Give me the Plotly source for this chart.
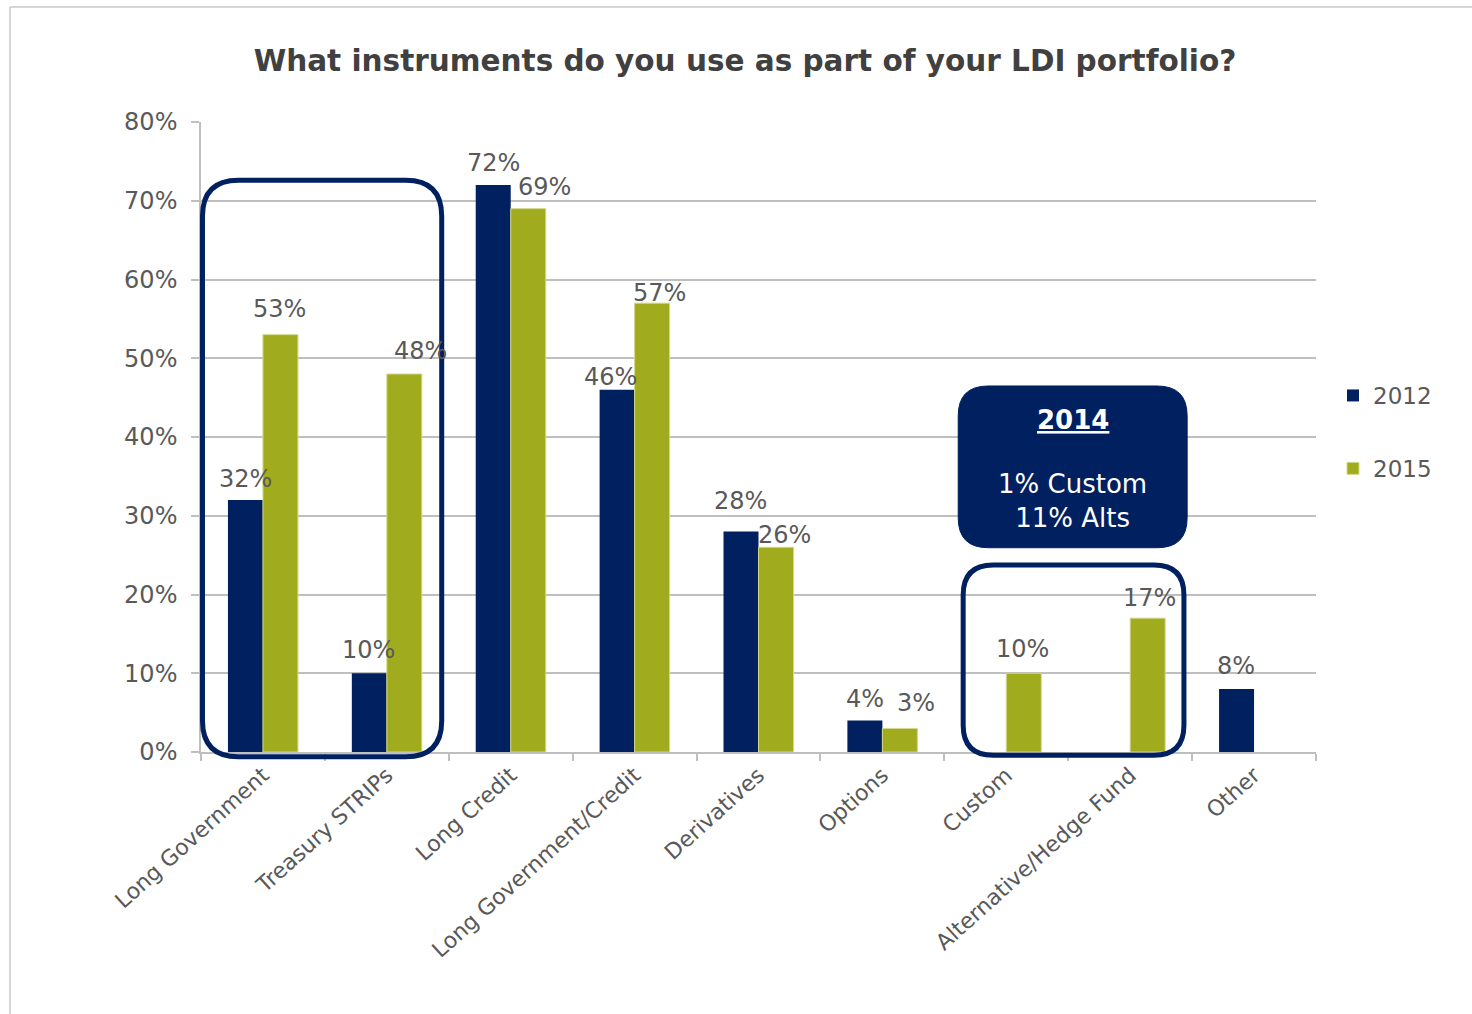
import plotly.graph_objects as go

# ---- survey data -------------------------------------------------------
categories = [
    "Long Government",
    "Treasury STRIPs",
    "Long Credit",
    "Long Government/Credit",
    "Derivatives",
    "Options",
    "Custom",
    "Alternative/Hedge Fund",
    "Other",
]
share_2012 = [32, 10, 72, 46, 28, 4, None, None, 8]
share_2015 = [53, 48, 69, 57, 26, 3, 10, 17, None]
y_tick_values = [0, 10, 20, 30, 40, 50, 60, 70, 80]
y_tick_labels = [f"{v}%" for v in y_tick_values]

# value-label placement: horizontal nudge and height above bar top (px)
label_dx_2012 = [0, -1, 0, -7, -1, 0, 0, 0, -1]
label_rise_2012 = [21, 23, 22, 13, 31, 22, 23, 23, 23]
label_dx_2015 = [-1, 16, 16, 7, 9, 16, -1, 2, 0]
label_rise_2015 = [26, 23, 22, 10, 12, 25, 24, 20, 23]

# ---- styling / layout constants ---------------------------------------
W, H = 1472, 1014
ML, MR, MT, MB = 201, 156, 122, 262
PLOT_W = W - ML - MR
PLOT_H = H - MT - MB
BARGAP = 0.435
NAVY = "#00205F"
OLIVE = "#A0AB1E"
GRID = "#BFBFBF"
TEXT = "#595959"
TITLE = "#404040"
FONT = "DejaVu Sans"
Y_MAX = 80
N = len(categories)

# half-width of one bar in pixels (two bars per group)
bar_half = PLOT_W / N * (1 - BARGAP) / 4


def cat_to_paper(i):
    return (i + 0.5) / N


def val_to_paper(v):
    return v / Y_MAX


def px_x(px):
    return (px - ML) / PLOT_W


def px_y(py):
    return (H - MB - py) / PLOT_H


def rounded_path(x0, x1, y0, y1, r):
    """Rounded rectangle in paper coordinates; r is the corner radius in px."""
    rx, ry = r / PLOT_W, r / PLOT_H
    return (
        f"M {x0 + rx},{y1} L {x1 - rx},{y1} Q {x1},{y1} {x1},{y1 - ry} "
        f"L {x1},{y0 + ry} Q {x1},{y0} {x1 - rx},{y0} "
        f"L {x0 + rx},{y0} Q {x0},{y0} {x0},{y0 + ry} "
        f"L {x0},{y1 - ry} Q {x0},{y1} {x0 + rx},{y1} Z"
    )


fig = go.Figure()
fig.add_trace(go.Bar(
    name="2012", x=categories, y=share_2012,
    marker=dict(color=NAVY, line=dict(width=0)),
    legendgroup="2012", hoverinfo="skip",
))
fig.add_trace(go.Bar(
    name="2015", x=categories, y=share_2015,
    marker=dict(color=OLIVE, line=dict(color="#D3D98C", width=1)),
    legendgroup="2015", hoverinfo="skip",
))

annotations = []
# value labels above each bar
for series, side, dxs, rises in (
    (share_2012, -bar_half, label_dx_2012, label_rise_2012),
    (share_2015, bar_half, label_dx_2015, label_rise_2015),
):
    for cat, v, dx, rise in zip(categories, series, dxs, rises):
        if v is None:
            continue
        annotations.append(dict(
            x=cat, y=v, xref="x", yref="y", text=f"{v}%",
            showarrow=False, xshift=side + dx, yshift=rise,
            xanchor="center", yanchor="middle",
            font=dict(family=FONT, size=24, color=TEXT),
        ))

shapes = []
# outline grouping the government-bond instruments
shapes.append(dict(
    type="path", xref="paper", yref="paper",
    path=rounded_path(cat_to_paper(-0.488), cat_to_paper(1.443),
                      val_to_paper(-0.6), val_to_paper(72.6), 36),
    line=dict(color=NAVY, width=5), fillcolor="rgba(0,0,0,0)", layer="above",
))
# outline grouping custom / alternative instruments
shapes.append(dict(
    type="path", xref="paper", yref="paper",
    path=rounded_path(cat_to_paper(5.652), cat_to_paper(7.434),
                      val_to_paper(-0.4), val_to_paper(23.75), 30),
    line=dict(color=NAVY, width=5), fillcolor="rgba(0,0,0,0)", layer="above",
))
# filled call-out box for 2014 figures
bx0, bx1 = cat_to_paper(5.612), cat_to_paper(7.46)
by0, by1 = val_to_paper(25.94), val_to_paper(46.48)
shapes.append(dict(
    type="path", xref="paper", yref="paper",
    path=rounded_path(bx0, bx1, by0, by1, 30),
    line=dict(color=NAVY, width=1), fillcolor=NAVY, layer="above",
))
annotations.append(dict(
    x=(bx0 + bx1) / 2, y=px_y(420), xref="paper", yref="paper",
    text="<b><u>2014</u></b>", showarrow=False,
    xanchor="center", yanchor="middle",
    font=dict(family=FONT, size=26, color="white"),
))
annotations.append(dict(
    x=(bx0 + bx1) / 2, y=px_y(501), xref="paper", yref="paper",
    text="1% Custom<br>11% Alts", showarrow=False,
    xanchor="center", yanchor="middle",
    font=dict(family=FONT, size=26, color="white"),
))

# outer chart-area border (top and left edges visible)
shapes.append(dict(type="line", xref="paper", yref="paper",
                   x0=px_x(10), x1=px_x(W + 5), y0=px_y(7), y1=px_y(7),
                   line=dict(color="#C8C8C8", width=1.5)))
shapes.append(dict(type="line", xref="paper", yref="paper",
                   x0=px_x(10), x1=px_x(10), y0=px_y(7), y1=px_y(H + 5),
                   line=dict(color="#C8C8C8", width=1.5)))

fig.update_layout(
    width=W, height=H,
    margin=dict(l=ML, r=MR, t=MT, b=MB, autoexpand=False),
    paper_bgcolor="white", plot_bgcolor="white",
    barmode="group", bargap=BARGAP, bargroupgap=0,
    title=dict(
        text="<b>What instruments do you use as part of your LDI portfolio?</b>",
        x=745 / W, xanchor="center", y=1 - 61 / H, yanchor="middle",
        font=dict(family=FONT, size=29.5, color=TITLE),
    ),
    font=dict(family=FONT, color=TEXT),
    xaxis=dict(
        type="category", tickangle=-42, tickson="boundaries",
        ticks="outside", ticklen=7, tickwidth=1.5, tickcolor=GRID,
        showline=True, linecolor=GRID, linewidth=1.5,
        showgrid=False, tickfont=dict(family=FONT, size=22, color=TEXT),
    ),
    yaxis=dict(
        range=[0, Y_MAX], tickvals=y_tick_values, ticktext=y_tick_labels,
        ticks="outside", ticklen=8, tickwidth=1.5, tickcolor=GRID,
        ticklabelstandoff=9,
        showline=True, linecolor=GRID, linewidth=1.5,
        showgrid=True, gridcolor=GRID, gridwidth=1.5, zeroline=False,
        tickfont=dict(family=FONT, size=24, color=TEXT),
    ),
    legend=dict(
        x=px_x(1333), xanchor="left", y=px_y(432), yanchor="middle",
        tracegroupgap=40, traceorder="grouped",
        font=dict(family=FONT, size=23, color=TEXT),
        bgcolor="rgba(0,0,0,0)",
    ),
    shapes=shapes,
    annotations=annotations,
)

fig.write_html("out.html")
